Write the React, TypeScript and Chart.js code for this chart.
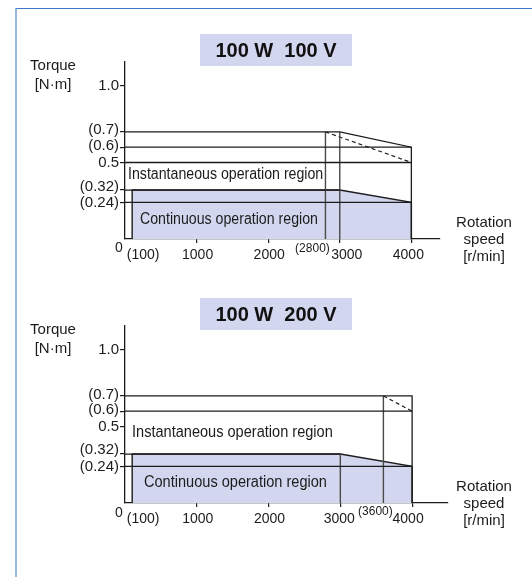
import React, { useEffect, useRef } from 'react';
import Chart from 'chart.js/auto';

// ---- shared data ----
const yTickVals = [0.24, 0.32, 0.5, 0.6, 0.7, 1.0];
const yTickLabels = ['(0.24)', '(0.32)', '0.5', '(0.6)', '(0.7)', '1.0'];
const xAxisTicks = [1000, 2000, 3000, 4000];
const yMax = 1.157;
const ratedTorque = 0.32;
const ratedSpeed = 3000;
const levelEnd = 4000;

// ---- panel 1: 100 W 100 V ----
const title1 = '100 W  100 V';
const xMax1 = 4400;
const contSpeed1 = [100, 100, 3000, 4000, 4000];
const contTorque1 = [0, 0.32, 0.32, 0.24, 0];
const peakSpeed1 = [0, 3000, 4000, 4000];
const peakTorque1 = [0.7, 0.7, 0.6, 0];
const dashSpeed1 = [2800, 4000];
const dashTorque1 = [0.7, 0.5];
const levelTorque1 = [0.6, 0.5, 0.24];
const vertSpeed1 = [2800, 3000];
const vertTop1 = [0.7, 0.7];
const xTickVals1 = [0, 100, 1000, 2000, 2800, 3000, 4000];
const xTickLabels1 = ['0', '(100)', '1000', '2000', '(2800)', '3000', '4000'];

// ---- panel 2: 100 W 200 V ----
const title2 = '100 W  200 V';
const xMax2 = 4500;
const contSpeed2 = [100, 100, 3000, 4000, 4000];
const contTorque2 = [0, 0.32, 0.32, 0.24, 0];
const peakSpeed2 = [0, 4000, 4000];
const peakTorque2 = [0.7, 0.7, 0];
const dashSpeed2 = [3600, 4000];
const dashTorque2 = [0.7, 0.6];
const levelTorque2 = [0.6, 0.24];
const vertSpeed2 = [3000, 3600];
const vertTop2 = [0.32, 0.7];
const xTickVals2 = [0, 100, 1000, 2000, 3000, 3600, 4000];
const xTickLabels2 = ['0', '(100)', '1000', '2000', '3000', '(3600)', '4000'];

const instText = 'Instantaneous operation region';
const contText = 'Continuous operation region';

const FONT = "'Liberation Sans', Arial, Helvetica, sans-serif";
const INK = '#1c1c1c';
const FILL = '#d2d6ee';

type Panel = {
  title: string; xMax: number; H: number; right: number;
  contSpeed: number[]; contTorque: number[];
  peakSpeed: number[]; peakTorque: number[];
  dashSpeed: number[]; dashTorque: number[];
  levelTorque: number[]; vertSpeed: number[]; vertTop: number[];
  xTickVals: number[]; xTickLabels: string[];
  instY: number; instDx: number; instSx: number;
  contY: number; contDx: number; contSx: number;
  xNudge: Record<string, [number, number, number]>;
  yNudge: Record<string, number>;
};

const panels: Panel[] = [
  {
    title: title1, xMax: xMax1, H: 264, right: 440,
    contSpeed: contSpeed1, contTorque: contTorque1,
    peakSpeed: peakSpeed1, peakTorque: peakTorque1,
    dashSpeed: dashSpeed1, dashTorque: dashTorque1,
    levelTorque: levelTorque1, vertSpeed: vertSpeed1, vertTop: vertTop1,
    xTickVals: xTickVals1, xTickLabels: xTickLabels1,
    instY: 0.42, instDx: 3, instSx: 0.885,
    contY: 0.13, contDx: 15, contSx: 0.885,
    xNudge: {
      '0': [-6, 9, 14], '(100)': [11, 16, 14], '1000': [1, 16, 14], '2000': [1, 16, 14],
      '(2800)': [-13, 10, 12], '3000': [7, 16, 14], '4000': [-3, 16, 14],
    },
    yNudge: { '(0.7)': -2, '(0.6)': -1, '0.5': 0, '(0.32)': -3, '(0.24)': 1, '1.0': 0 },
  },
  {
    title: title2, xMax: xMax2, H: 313, right: 448,
    contSpeed: contSpeed2, contTorque: contTorque2,
    peakSpeed: peakSpeed2, peakTorque: peakTorque2,
    dashSpeed: dashSpeed2, dashTorque: dashTorque2,
    levelTorque: levelTorque2, vertSpeed: vertSpeed2, vertTop: vertTop2,
    xTickVals: xTickVals2, xTickLabels: xTickLabels2,
    instY: 0.46, instDx: 7, instSx: 0.91,
    contY: 0.133, contDx: 19, contSx: 0.91,
    xNudge: {
      '0': [-6, 10, 14], '(100)': [11, 16, 14], '1000': [1, 16, 14], '2000': [1, 16, 14],
      '3000': [-1, 16, 14], '(3600)': [-8, 9, 12], '4000': [-4, 16, 14],
    },
    yNudge: { '(0.7)': -1.5, '(0.6)': -1.5, '0.5': 0, '(0.32)': -4, '(0.24)': 1, '1.0': 0 },
  },
];

function buildChart(canvas: HTMLCanvasElement, p: Panel) {
  const seg = (xs: number[], ys: number[], extra: any = {}) => ({
    data: xs.map((x, i) => ({ x, y: ys[i] })),
    borderColor: INK, borderWidth: 1.3, pointRadius: 0, tension: 0, fill: false,
    ...extra,
  });
  const datasets: any[] = [];
  datasets.push(seg(p.peakSpeed, p.peakTorque));
  p.levelTorque.forEach((t) => datasets.push(seg([0, levelEnd], [t, t])));
  datasets.push(seg([0, ratedSpeed], [ratedTorque, ratedTorque]));
  p.vertSpeed.forEach((s, i) =>
    datasets.push(seg([s, s], [0, p.vertTop[i]], { borderColor: '#4a4a4a', borderWidth: 1.4 })));
  datasets.push(seg(p.dashSpeed, p.dashTorque, { borderDash: [4, 3], borderWidth: 1.2 }));
  datasets.push(seg(p.contSpeed, p.contTorque, { fill: 'origin', backgroundColor: FILL, borderWidth: 1.4 }));

  const annot = {
    id: 'annot',
    afterDraw(chart: any) {
      const ctx = chart.ctx as CanvasRenderingContext2D;
      const xs = chart.scales.x, ys = chart.scales.y;
      const ca = chart.chartArea;
      ctx.save();
      // title box
      ctx.fillStyle = FILL;
      ctx.fillRect(200, 34, 152, 32);
      ctx.fillStyle = '#111';
      ctx.font = `bold 20px ${FONT}`;
      ctx.textAlign = 'center';
      ctx.textBaseline = 'middle';
      ctx.fillText(p.title, 276, 51);
      // y axis title
      ctx.fillStyle = INK;
      ctx.font = `15px ${FONT}`;
      ctx.fillText('Torque', 53, 66);
      ctx.fillText('[N\u00b7m]', 53, 85);
      // x axis title
      const zero = ys.getPixelForValue(0);
      ctx.fillText('Rotation', 484, zero - 16);
      ctx.fillText('speed', 484, zero + 1);
      ctx.fillText('[r/min]', 484, zero + 18);
      // y tick labels
      ctx.textAlign = 'right';
      ctx.font = `15px ${FONT}`;
      yTickVals.forEach((v, i) => {
        const lab = yTickLabels[i];
        ctx.fillText(lab, ca.left - 6, ys.getPixelForValue(v) + (p.yNudge[lab] || 0));
      });
      // x tick labels
      ctx.textAlign = 'center';
      p.xTickVals.forEach((v, i) => {
        const lab = p.xTickLabels[i];
        const [dx, dy, fs] = p.xNudge[lab] || [0, 16, 14];
        ctx.font = `${fs}px ${FONT}`;
        ctx.fillText(lab, xs.getPixelForValue(v) + dx, zero + dy);
      });
      // region texts (condensed)
      ctx.textAlign = 'left';
      ctx.font = `16px ${FONT}`;
      ctx.save();
      ctx.translate(ca.left + p.instDx, ys.getPixelForValue(p.instY));
      ctx.scale(p.instSx, 1);
      ctx.fillText(instText, 0, 0);
      ctx.restore();
      ctx.save();
      ctx.translate(ca.left + p.contDx, ys.getPixelForValue(p.contY));
      ctx.scale(p.contSx, 1);
      ctx.fillText(contText, 0, 0);
      ctx.restore();
      ctx.restore();
    },
  };

  return new Chart(canvas, {
    type: 'line',
    data: { datasets },
    plugins: [annot],
    options: {
      animation: false,
      responsive: false,
      maintainAspectRatio: false,
      layout: { padding: { left: 0, top: 62, right: 532 - p.right, bottom: 0 } },
      plugins: { legend: { display: false }, tooltip: { enabled: false } },
      scales: {
        x: {
          type: 'linear', min: 0, max: p.xMax,
          afterBuildTicks: (s: any) => { s.ticks = xAxisTicks.map((v) => ({ value: v })); },
          afterFit: (s: any) => { s.height = p.H - 239; },
          ticks: { display: false },
          grid: { drawOnChartArea: false, drawTicks: true, tickLength: 4, color: INK, lineWidth: 1.2 },
          border: { display: true, color: INK, width: 1.3 },
        },
        y: {
          type: 'linear', min: 0, max: yMax,
          afterBuildTicks: (s: any) => { s.ticks = yTickVals.map((v) => ({ value: v })); },
          afterFit: (s: any) => { s.width = 125; },
          ticks: { display: false },
          grid: { drawOnChartArea: false, drawTicks: true, tickLength: 5, color: INK, lineWidth: 1.2 },
          border: { display: true, color: INK, width: 1.3 },
        },
      },
    } as any,
  });
}

function PanelChart({ p, top }: { p: Panel; top: number }) {
  const ref = useRef<HTMLCanvasElement>(null);
  useEffect(() => {
    if (!ref.current) return;
    const c = buildChart(ref.current, p);
    return () => c.destroy();
  }, [p]);
  return (
    <canvas
      ref={ref}
      width={532}
      height={p.H}
      style={{ position: 'absolute', left: 0, top, width: 532, height: p.H }}
    />
  );
}

export default function App() {
  return (
    <div style={{ position: 'absolute', left: 0, top: 0, width: 532, height: 577, overflow: 'hidden', background: '#fff' }}>
      <div style={{ position: 'absolute', left: 15, top: 8, width: 600, height: 600, borderTop: '1px solid #3f78c6', borderLeft: '2px solid #97b6e2', boxSizing: 'border-box' }} />
      <PanelChart p={panels[0]} top={0} />
      <PanelChart p={panels[1]} top={264} />
    </div>
  );
}
